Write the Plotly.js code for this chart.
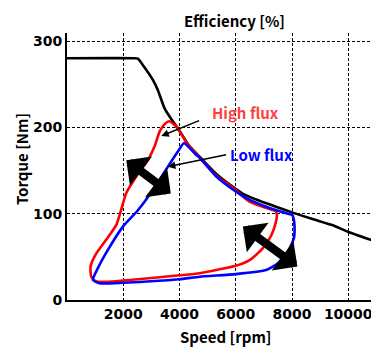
<!DOCTYPE html>
<html>
<head>
<meta charset="utf-8">
<script src="https://cdn.plot.ly/plotly-3.0.1.min.js"></script>
<style>
html,body{margin:0;padding:0;overflow:hidden;background:#fff;}
#chart{width:415px;height:347px;}
</style>
</head>
<body>
<div id="chart"></div>
<script>
// Max torque envelope (black)
const envSpeed  = [0, 2400, 2521, 2700, 3054, 3232, 3470, 3719, 4000, 4359, 4715, 5308, 5898, 6254, 7086, 8000, 8700, 9455, 9988, 10900];
const envTorque = [280, 280, 279.5, 272, 255, 243, 222, 209, 196, 178, 166, 146, 131, 123, 112, 101.5, 94, 86.5, 79, 68.5];

// High flux efficiency contour (red)
const highSpeed  = [3640, 3480, 3292, 3115, 2877, 2464, 2108, 1930, 1753, 1397, 1042, 839, 864, 1042, 1988, 3979, 4715, 5426, 6000, 6492, 6966, 7264, 7417, 7463, 7417, 7086, 6492, 6254, 5898, 5308, 4715, 4299, 4121, 3886, 3640];
const highTorque = [207, 204, 195, 178, 162, 143, 124, 105, 87, 70, 54, 39, 27, 21.5, 22.5, 28.5, 31, 35.6, 39.7, 46.3, 60, 75, 89, 98.5, 103, 106.5, 114, 120, 130, 144, 165, 180, 189, 201, 207];

// Low flux efficiency contour (blue)
const lowSpeed  = [4157, 3943, 3588, 3054, 2521, 1988, 1454, 1099, 921, 1159, 1988, 3979, 4715, 6000, 7086, 7499, 7854, 8068, 8092, 8068, 8011, 7797, 7086, 6375, 5898, 5308, 4715, 4600, 4157];
const lowTorque = [181.5, 172, 154.5, 127.5, 104, 85, 58, 37, 23.5, 19.3, 20, 24, 27, 30, 34.7, 42.5, 56, 71.5, 83, 92.7, 98.5, 100.5, 108, 118, 128, 143, 165, 168, 181.5];

const xTicks = [2000, 4000, 6000, 8000, 10000];
const yTicks = [0, 100, 200, 300];

const labelFont = {family: 'Noto Sans CJK JP', size: 15, color: '#000', weight: 'bold'};
const tickFont = {family: 'DejaVu Sans', size: 14, color: '#000', weight: 'bold'};

const traces = [
  {x: envSpeed, y: envTorque, mode: 'lines', line: {color: '#000', width: 2.6, shape: 'spline', smoothing: 0.5}, hoverinfo: 'skip', name: 'Max torque'},
  {x: highSpeed, y: highTorque, mode: 'lines', line: {color: '#ff0000', width: 2.6, shape: 'spline', smoothing: 0.6}, name: 'High flux'},
  {x: lowSpeed, y: lowTorque, mode: 'lines', line: {color: '#0000ff', width: 2.6, shape: 'spline', smoothing: 0.5}, name: 'Low flux'}
];

const thick = {text: '', showarrow: true, arrowside: 'end+start', arrowhead: 1, startarrowhead: 1,
  arrowwidth: 8.5, arrowsize: 0.72, startarrowsize: 0.72, arrowcolor: '#000', axref: 'x', ayref: 'y', standoff: 0, startstandoff: 0};
const thin = {text: '', showarrow: true, arrowhead: 2, arrowsize: 1, arrowwidth: 1.5, arrowcolor: '#000', axref: 'x', ayref: 'y', standoff: 0};

const layout = {
  width: 415, height: 347,
  margin: {l: 67, r: 10, t: 33, b: 47},
  paper_bgcolor: '#fff', plot_bgcolor: '#fff',
  showlegend: false,
  title: {text: 'Efficiency [%]', font: labelFont, x: 0.565, xref: 'container', xanchor: 'center', y: 0.938, yref: 'container', yanchor: 'middle'},
  xaxis: {range: [0, 12018], tickvals: xTicks, ticktext: xTicks.map(String), showgrid: true, gridcolor: '#000', gridwidth: 1, griddash: '3px,2px',
    showline: true, linecolor: '#000', linewidth: 2, ticks: '', zeroline: false, tickfont: tickFont, automargin: false, fixedrange: true},
  yaxis: {range: [0, 309.3], tickvals: yTicks, ticktext: yTicks.map(String), showgrid: true, gridcolor: '#000', gridwidth: 1, griddash: '3px,2px',
    showline: true, linecolor: '#000', linewidth: 2, ticks: '', zeroline: false, tickfont: tickFont, automargin: false, fixedrange: true},
  annotations: [
    Object.assign({}, thick, {x: 2108, y: 162, ax: 3744, ay: 122}),
    Object.assign({}, thick, {x: 6254, y: 85, ax: 8245, ay: 37.4}),
    Object.assign({}, thin, {x: 3353, y: 190, ax: 4750, ay: 208.5}),
    Object.assign({}, thin, {x: 3588, y: 154.4, ax: 5710, ay: 168.5}),
    {text: 'High flux', x: 6350, y: 217, xanchor: 'center', yanchor: 'middle', showarrow: false, font: Object.assign({}, labelFont, {color: '#ff4040'})},
    {text: 'Low flux', x: 6908, y: 168, xanchor: 'center', yanchor: 'middle', showarrow: false, font: Object.assign({}, labelFont, {color: '#0000ff'})},
    {text: 'Torque [Nm]', textangle: -90, xref: 'paper', yref: 'paper', x: -0.136, y: 0.528, xanchor: 'center', yanchor: 'middle', showarrow: false, font: labelFont},
    {text: 'Speed [rpm]', xref: 'paper', yref: 'paper', x: 0.470, y: -0.138, xanchor: 'center', yanchor: 'middle', showarrow: false, font: labelFont}
  ]
};

Plotly.newPlot('chart', traces, layout, {displayModeBar: false, staticPlot: true});
</script>
</body>
</html>
